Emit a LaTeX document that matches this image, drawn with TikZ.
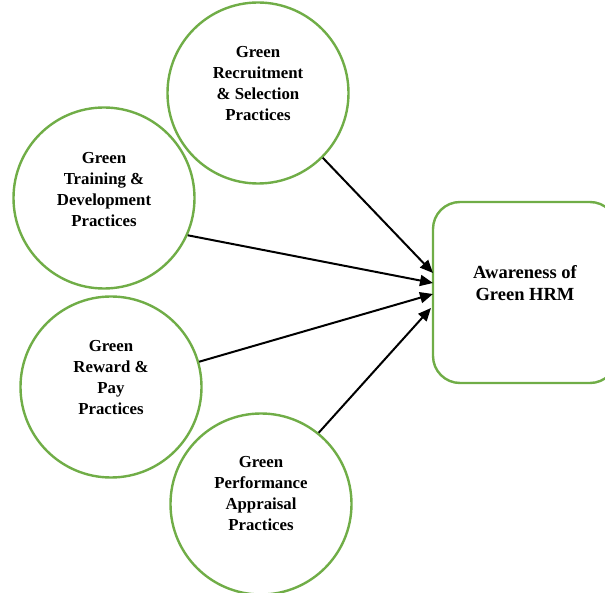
\documentclass[tikz,border=0pt]{standalone}
\usepackage{fontspec}
\setmainfont{Liberation Serif}
\usetikzlibrary{arrows.meta}
\definecolor{hrmgreen}{RGB}{112,173,71}
\tikzset{
  circ/.style={circle, draw=hrmgreen, line width=2.4pt, minimum size=181pt, inner sep=0pt},
  boxnode/.style={draw=hrmgreen, line width=2.4pt, rounded corners=27pt, minimum width=184pt, minimum height=181pt, inner sep=0pt},
  ctext/.style={align=center, font=\bfseries\fontsize{16.8}{21}\selectfont, inner sep=0pt},
  btext/.style={align=center, font=\bfseries\fontsize{18.5}{22}\selectfont, inner sep=0pt},
  arr/.style={-{Triangle[length=13pt,width=11pt]}, line width=2pt, black}
}
\begin{document}
\begin{tikzpicture}[x=1pt,y=1pt]
\useasboundingbox (0,0) rectangle (605,592);
% circles (image y flipped: Y = 592 - y)
\node[circ] (c1) at (258,499) {};
\node[circ] (c2) at (104,394) {};
\node[circ] (c3) at (111,205) {};
\node[circ] (c4) at (261,88) {};
\node[boxnode] (box) at (525,299.5) {};
% texts
\node[ctext] (t1) at (258,508.5) {Green\\Recruitment\\\& Selection\\Practices};
\node[ctext] (t2) at (104,402.5) {Green\\Training \&\\Development\\Practices};
\node[ctext] (t3) at (111,214) {Green\\Reward \&\\Pay\\Practices};
\node[ctext] (t4) at (261,98) {Green\\Performance\\Appraisal\\Practices};
\node[btext] (bt) at (525,309) {Awareness of\\Green HRM};
% arrow end points on the box edge
\coordinate (e1) at (433,319);
\coordinate (e2) at (433,309);
\coordinate (e3) at (433,298);
\coordinate (e4) at (431,284);
\draw[arr] (c1.-45.9) -- (e1);
\draw[arr] (c2.-24.3) -- (e2);
\draw[arr] (c3.16.9) -- (e3);
\draw[arr] (c4.51.9) -- (e4);
\end{tikzpicture}
\end{document}
